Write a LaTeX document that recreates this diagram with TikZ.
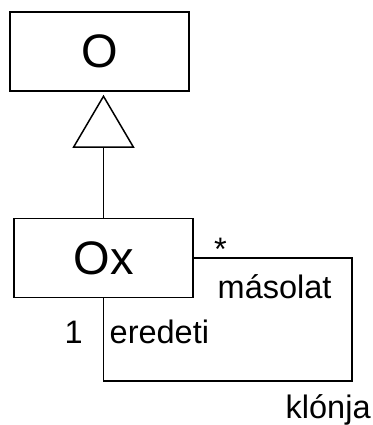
\documentclass[tikz,border=0pt]{standalone}
\usepackage{fontspec}
\setmainfont{Liberation Sans}
\usetikzlibrary{arrows.meta}
\begin{document}
\begin{tikzpicture}[x=1pt,y=-1pt,
  classbox/.style={draw,line width=1.6pt,minimum width=179pt,minimum height=79pt,inner sep=0pt,font=\fontsize{47}{47}\selectfont},
  lbl/.style={inner sep=0pt,anchor=base west,font=\fontsize{32.5}{33}\selectfont},
  conn/.style={line width=1.5pt}]
\useasboundingbox (0,0) rectangle (372,425);
\node[classbox] (O) at (99.5,51.5) {O};
\node[classbox] (Ox) at (103.5,258) {Ox};
\draw[conn,-{Triangle[open,length=53pt,width=62pt,line width=1.5pt]},shorten >=3pt] (Ox.north) -- (Ox.north |- O.south);
\coordinate (c1) at (352,381);
\draw[conn] (Ox.east) -| (c1) -| (Ox.south);
\node[lbl] (star) at (214,260) {*};
\node[lbl] (mas) at (217.5,298) {másolat};
\node[lbl] (one) at (64.5,343) {1};
\node[lbl] (ered) at (109.5,343) {eredeti};
\node[lbl] (klon) at (285.5,418) {klónja};
\end{tikzpicture}
\end{document}
